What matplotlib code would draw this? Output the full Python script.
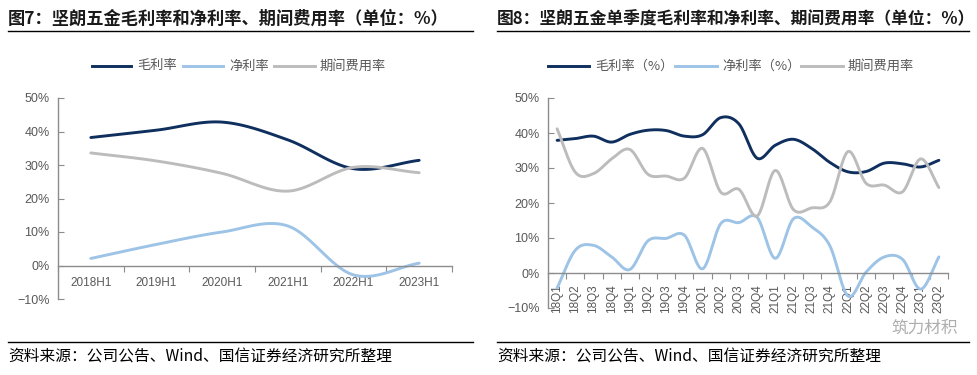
import numpy as np
import matplotlib
matplotlib.use("Agg")
import matplotlib.pyplot as plt
from matplotlib.lines import Line2D

plt.rcParams['font.family'] = ['Noto Sans CJK SC', 'DejaVu Sans']

# ---------------- data ----------------
half_labels = ["2018H1", "2019H1", "2020H1", "2021H1", "2022H1", "2023H1"]
half_gross = [38.2, 40.4, 42.8, 37.5, 28.9, 31.4]
half_net = [2.1, 6.3, 10.0, 11.8, -2.8, 0.7]
half_exp = [33.6, 31.2, 27.5, 22.2, 29.3, 27.7]

q_labels = ["18Q1", "18Q2", "18Q3", "18Q4", "19Q1", "19Q2", "19Q3", "19Q4",
            "20Q1", "20Q2", "20Q3", "20Q4", "21Q1", "21Q2", "21Q3", "21Q4",
            "22Q1", "22Q2", "22Q3", "22Q4", "23Q1", "23Q2"]
q_gross = [37.9, 38.4, 39.1, 37.4, 39.6, 40.8, 40.7, 39.1, 39.5, 44.4, 42.6, 32.8,
           36.5, 38.2, 35.6, 31.6, 28.9, 29.0, 31.4, 31.2, 30.3, 32.2]
q_net = [-4.3, 6.5, 7.9, 4.6, 1.0, 9.2, 9.9, 10.8, 1.2, 14.1, 14.4, 15.9,
         4.2, 15.5, 13.2, 7.8, -6.6, 0.3, 4.6, 3.9, -4.6, 4.6]
q_exp = [41.2, 28.8, 28.4, 32.6, 35.3, 28.2, 27.7, 27.1, 35.6, 23.1, 23.9, 16.3,
         29.3, 18.1, 18.6, 20.3, 34.7, 25.6, 25.1, 23.2, 32.6, 24.4]

C_GROSS = "#0f2f5f"
C_NET = "#9dc3e6"
C_EXP = "#bcbcbc"
TXT = "#595959"
AXC = "#8c8c8c"


def smooth(xs, ys, n=24):
    """Catmull-Rom smoothing for display of the line through the data points."""
    x = np.asarray(xs, float)
    y = np.asarray(ys, float)
    px = np.concatenate([[2 * x[0] - x[1]], x, [2 * x[-1] - x[-2]]])
    py = np.concatenate([[2 * y[0] - y[1]], y, [2 * y[-1] - y[-2]]])
    ox, oy = [], []
    t = np.linspace(0, 1, n, endpoint=False)
    for i in range(1, len(px) - 2):
        for arr, out in ((px, ox), (py, oy)):
            p0, p1, p2, p3 = arr[i - 1], arr[i], arr[i + 1], arr[i + 2]
            out.extend(0.5 * ((2 * p1) + (-p0 + p2) * t + (2 * p0 - 5 * p1 + 4 * p2 - p3) * t ** 2
                              + (-p0 + 3 * p1 - 3 * p2 + p3) * t ** 3))
    ox.append(x[-1]); oy.append(y[-1])
    return np.array(ox), np.array(oy)


fig = plt.figure(figsize=(9.78, 3.75), dpi=100)


def style_axis(ax, n, labels, rot):
    ax.set_xlim(-0.5, n - 0.5)
    ax.set_ylim(-10, 50)
    ax.set_yticks(np.arange(-10, 51, 10))
    ax.set_yticklabels([("−10%" if v < 0 else f"{v}%") for v in range(-10, 51, 10)])
    ax.spines['top'].set_visible(False)
    ax.spines['right'].set_visible(False)
    ax.spines['bottom'].set_position(('data', 0))
    for s in ('left', 'bottom'):
        ax.spines[s].set_color(AXC)
        ax.spines[s].set_linewidth(1.0)
    ax.set_xticks(np.arange(-0.5, n, 1.0), minor=False)
    ax.set_xticklabels([])
    ax.set_xticks(np.arange(n), minor=True)
    ax.set_xticklabels(labels, minor=True, rotation=rot, color=TXT, fontsize=8.5,
                       family=['Liberation Sans', 'DejaVu Sans'])
    ax.tick_params(axis='x', which='major', direction='out', length=4, color=AXC)
    ax.tick_params(axis='x', which='minor', length=0, pad=8)
    ax.tick_params(axis='y', direction='in', length=4, color=AXC, labelcolor=TXT,
                   labelsize=9, pad=6)
    for lab in ax.get_yticklabels():
        lab.set_family(['Liberation Sans', 'DejaVu Sans'])


# left chart
ax1 = fig.add_axes([58 / 978, 1 - 299 / 375, 394 / 978, 201 / 375])
xh = np.arange(len(half_labels))
for vals, c in ((half_gross, C_GROSS), (half_net, C_NET), (half_exp, C_EXP)):
    sx, sy = smooth(xh, vals)
    ax1.plot(sx, sy, color=c, lw=2.1, solid_capstyle='round')
style_axis(ax1, len(half_labels), half_labels, 0)

# right chart
ax2 = fig.add_axes([548 / 978, 1 - 308 / 375, 400 / 978, 210 / 375])
xq = np.arange(len(q_labels))
for vals, c in ((q_gross, C_GROSS), (q_net, C_NET), (q_exp, C_EXP)):
    sx, sy = smooth(xq, vals)
    ax2.plot(sx, sy, color=c, lw=2.1, solid_capstyle='round')
style_axis(ax2, len(q_labels), q_labels, 90)
for lab in ax2.get_xticklabels(minor=True):
    lab.set_va('top')

# titles
fig.text(8 / 978, 1 - 19 / 375, "图7：坚朗五金毛利率和净利率、期间费用率（单位：%）",
         fontsize=12.4, fontweight='bold', color='#1a1a1a', va='center', ha='left')
fig.text(497 / 978, 1 - 19 / 375, "图8：坚朗五金单季度毛利率和净利率、期间费用率（单位：%）",
         fontsize=12.1, fontweight='bold', color='#1a1a1a', va='center', ha='left')
for x0, x1 in ((8, 473), (497, 969)):
    fig.add_artist(Line2D([x0 / 978, x1 / 978], [1 - 31 / 375] * 2, color='black', lw=1.0))
    fig.add_artist(Line2D([x0 / 978, x1 / 978], [1 - 342 / 375] * 2, color='black', lw=1.0))

# legends
def legend_row(items, y):
    for (x0, x1, tx, label, c) in items:
        fig.add_artist(Line2D([x0 / 978, x1 / 978], [1 - y / 375] * 2, color=c, lw=2.1))
        fig.text(tx / 978, 1 - y / 375, label, fontsize=9.5, color=TXT, va='center', ha='left')

legend_row([(92, 131, 137, "毛利率", C_GROSS), (183, 223, 229, "净利率", C_NET),
            (274, 315, 320, "期间费用率", C_EXP)], 66)
legend_row([(548, 589, 595, "毛利率（%）", C_GROSS), (675, 717, 722, "净利率（%）", C_NET),
            (801, 843, 848, "期间费用率", C_EXP)], 66)

# footers
fig.text(8 / 978, 1 - 357 / 375, "资料来源：公司公告、Wind、国信证券经济研究所整理",
         fontsize=11.3, color='black', va='center', ha='left')
fig.text(497 / 978, 1 - 357 / 375, "资料来源：公司公告、Wind、国信证券经济研究所整理",
         fontsize=11.3, color='black', va='center', ha='left')
fig.text(958 / 978, 1 - 328 / 375, "筑力材积", fontsize=12, color='#9a9a9a',
         va='center', ha='right', alpha=0.8)

fig.savefig("out.png", dpi=100)
